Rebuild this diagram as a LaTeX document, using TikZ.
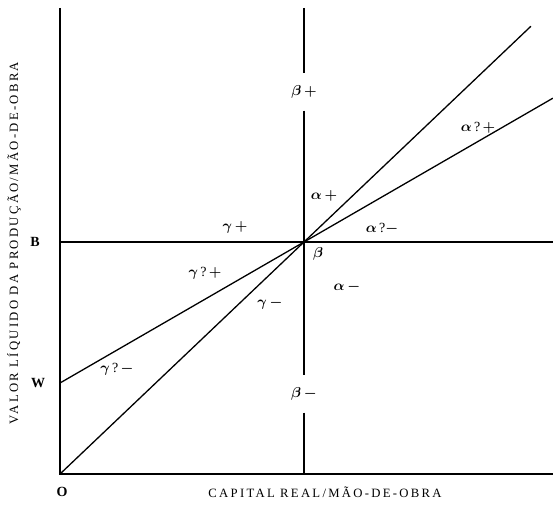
\documentclass[tikz,border=0pt]{standalone}
\usepackage{fontspec}
\setmainfont{Liberation Serif}
\newfontfamily\capsfont[LetterSpace=18]{Liberation Serif}
\usepackage{tikz}
\usetikzlibrary{calc}

\begin{document}
\begin{tikzpicture}[x=1pt,y=1pt,line width=1.3pt,
  zone/.style={font=\fontsize{14}{16}\selectfont\boldmath,inner sep=1pt},
  gap/.style={font=\fontsize{14}{16}\selectfont\boldmath,minimum height=36pt,inner sep=0pt},
  tick/.style={font=\fontsize{14}{16}\selectfont\bfseries},
  axislabel/.style={font=\capsfont\fontsize{12.7}{14}\selectfont}]
\useasboundingbox (0,0) rectangle (553,507);
% axes and the point beta
\coordinate (O) at (60,33);
\coordinate (ytop) at (60,499);
\coordinate (xend) at (553,33);
\coordinate (B) at (60,265);
\coordinate (Bend) at (553,265);
\coordinate (W) at (60,124);
\coordinate (P) at (304,265);
\coordinate (vtop) at (304,499);
\coordinate (vbase) at (304,33);
\draw (ytop)--(O)--(xend);
\draw (B)--(Bend);
% vertical line, broken at the beta labels
\node[gap] (bplus) at (304,415) {$\beta\,+$};
\node[gap] (bminus) at (304,113) {$\beta\,-$};
\draw (vtop)--(bplus) (bplus)--(bminus) (bminus)--(vbase);
% the two rays through beta
\draw (O)--($(O)!1.93!(P)$);
\draw (W)--($(W)!2.02!(P)$);
% regions
\node[zone] (aqp) at (478,379) {$\alpha$\,?\,$+$};
\node[zone] (ap) at (324,311) {$\alpha\,+$};
\node[zone] (gp) at (235,280) {$\gamma\,+$};
\node[zone] (aqm) at (382,278) {$\alpha$\,?$-$};
\node[zone] (beta) at (318,253) {$\beta$};
\node[zone] (gqp) at (205,234) {$\gamma$\,?\,$+$};
\node[zone] (am) at (347,220) {$\alpha\,-$};
\node[zone] (gm) at (270,204) {$\gamma\,-$};
\node[zone] (gqm) at (117,138) {$\gamma$\,?\,$-$};
% axis marks and titles
\node[tick] (lB) at (35,265) {B};
\node[tick] (lW) at (38,124) {W};
\node[tick] (lO) at (62,15) {O};
\node[axislabel] (xlab) at (325,15) {CAPITAL REAL/MÃO-DE-OBRA};
\node[axislabel,rotate=90] (ylab) at (14,264) {VALOR LÍQUIDO DA PRODUÇÃO/MÃO-DE-OBRA};
\end{tikzpicture}
\end{document}
